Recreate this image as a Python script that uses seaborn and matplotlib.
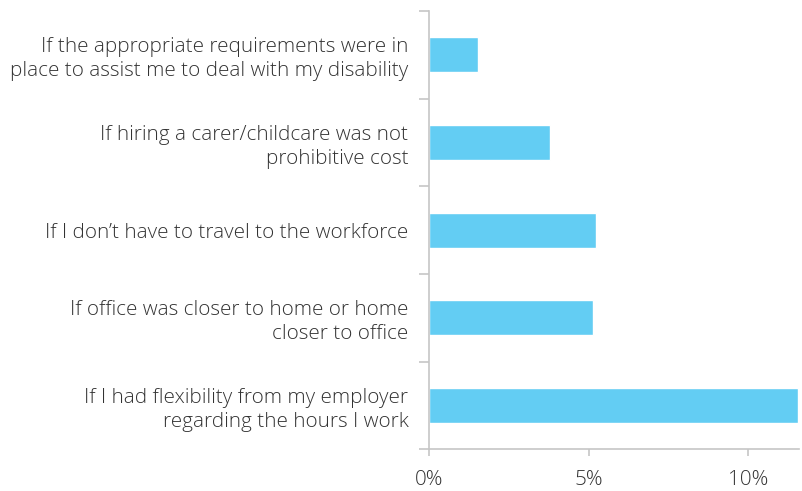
import matplotlib
matplotlib.use("Agg")
import matplotlib.pyplot as plt
import seaborn as sns
import pandas as pd
from matplotlib.ticker import FixedLocator, FuncFormatter

categories = [
    "If the appropriate requirements were in\nplace to assist me to deal with my disability",
    "If hiring a carer/childcare was not\nprohibitive cost",
    "If I don\u2019t have to travel to the workforce",
    "If office was closer to home or home\ncloser to office",
    "If I had flexibility from my employer\nregarding the hours I work",
]
values = [1.52, 3.78, 5.22, 5.14, 11.57]
x_ticks = [0, 5, 10]

sns.set_theme(style="white")
plt.rcParams["font.family"] = ["Open Sans", "DejaVu Sans"]

df = pd.DataFrame({"reason": categories, "share": values})

fig = plt.figure(figsize=(8.02, 4.91), dpi=100)
ax = fig.add_axes([0.5353, 0.0849, 0.9966 - 0.5353, 0.9776 - 0.0849])

sns.barplot(data=df, x="share", y="reason", orient="h", color="#63CDF3",
            saturation=1, width=0.4, ax=ax)

ax.set_xlim(0, 11.6)
ax.set_ylim(len(categories) - 0.5, -0.5)
ax.set_xlabel("")
ax.set_ylabel("")

text_color = "#333333"
axis_color = "#c6c6c6"
label_size = 14.9

for side in ("top", "right"):
    ax.spines[side].set_visible(False)
for side in ("left", "bottom"):
    ax.spines[side].set_color(axis_color)
    ax.spines[side].set_linewidth(1.2)

# x axis: percent labels with short downward ticks
ax.xaxis.set_major_locator(FixedLocator(x_ticks))
ax.xaxis.set_major_formatter(FuncFormatter(lambda v, p: f"{v:.0f}%"))
ax.tick_params(axis="x", which="major", bottom=True, length=5, width=1.2,
               color=axis_color, labelsize=label_size, labelcolor=text_color,
               pad=10)
for lbl in ax.get_xticklabels():
    lbl.set_fontweight("light")

# y axis: labels at bar centres, ticks on the category boundaries
ax.set_yticks(range(len(categories)))
ax.set_yticklabels(categories, fontsize=label_size, color=text_color,
                   linespacing=1.25, ha="right", fontweight="light")
ax.tick_params(axis="y", which="major", left=False, length=0, pad=15)
ax.yaxis.set_minor_locator(FixedLocator([i - 0.5 for i in range(len(categories) + 1)]))
ax.tick_params(axis="y", which="minor", left=True, length=7, width=1.2,
               color=axis_color)

fig.savefig("out.png", dpi=100)
